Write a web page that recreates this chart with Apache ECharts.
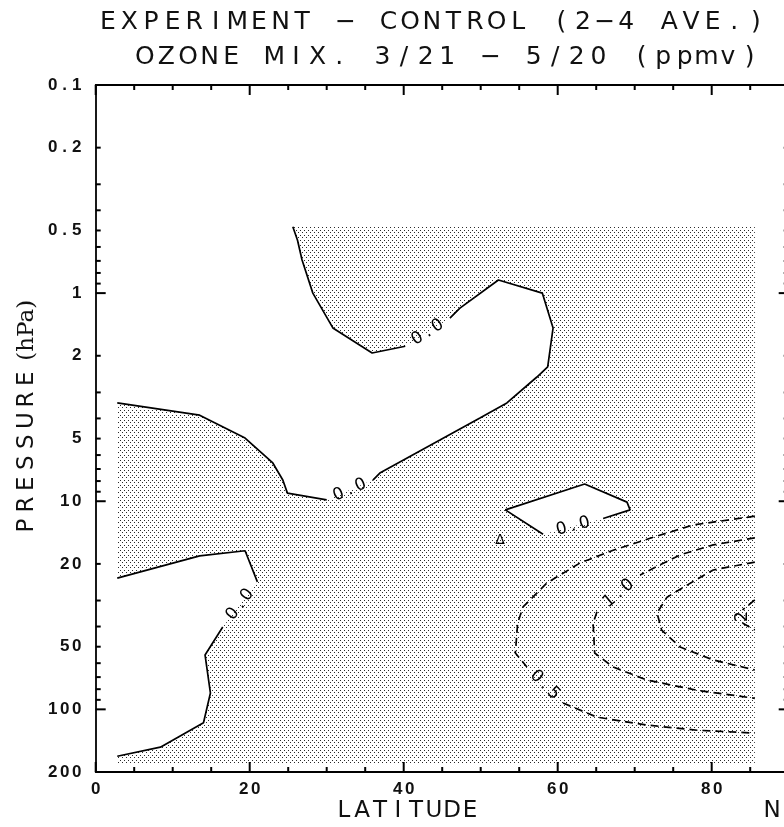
<!DOCTYPE html>
<html>
<head>
<meta charset="utf-8">
<title>Experiment - Control ozone mix</title>
<script src="https://cdn.jsdelivr.net/npm/echarts@6/dist/echarts.min.js"></script>
<style>
    html, body { margin: 0; padding: 0; background: #fff; }
    #main { width: 784px; height: 827px; }
</style>
</head>
<body>
<div id="main"></div>
<script>
// axis labels
var pressureTicks = [0.1, 0.2, 0.5, 1, 2, 5, 10, 20, 50, 100, 200];
var pressureLabels = ['0.1', '0.2', '0.5', '1', '2', '5', '10', '20', '50', '100', '200'];
var latTicks = [0, 20, 40, 60, 80];
var latLabels = ['0', '20', '40', '60', '80'];
var titleLines = ['EXPERIMENT \u2212 CONTROL (2\u22124 AVE.)', 'OZONE MIX. 3/21 \u2212 5/20 (ppmv)'];

// model domain, [lat, hPa] corners
var domain = [[2.8, 0.48], [85.6, 185]];

// contours, [lat, hPa]; each is split into segments where a label sits
var zeroUpper = [
    [[25.6, 0.48], [26.2, 0.556], [26.8, 0.693], [28.2, 1.0], [30.8, 1.47], [35.9, 1.94], [40.2, 1.80]],
    [[46.0, 1.32], [47.3, 1.18], [52.3, 0.865], [58.0, 1.0], [59.4, 1.47], [58.7, 2.26], [57.3, 2.53],
     [53.4, 3.37], [49.9, 3.98], [44.7, 5.08], [36.9, 7.32], [36.0, 7.91]],
    [[30.0, 9.86], [24.9, 9.14], [24.3, 7.91], [23.0, 6.55], [19.4, 4.97], [13.5, 3.86], [2.8, 3.37]]
];
var zeroLower = [
    [[2.8, 23.4], [13.5, 18.3], [19.4, 17.3], [21.0, 24.4]],
    [[16.5, 40.2], [14.2, 54.8], [14.9, 83.5], [14.0, 116], [8.4, 152], [2.8, 168]]
];
var zeroSmall = [
    [[58.1, 14.4], [53.2, 11.0], [63.5, 8.26], [69.0, 10.1], [69.4, 11.0], [65.9, 12.1]]
];
var minus05 = [
    [[85.6, 11.8], [77.6, 13.0], [72.4, 14.9], [67.2, 17.2], [62.9, 19.8], [58.6, 24.7], [55.5, 32.2],
     [54.8, 38.5], [54.5, 53.6], [56.0, 62.6]],
    [[60.7, 93.3], [65.1, 109], [71.6, 119], [78.1, 126], [85.6, 130]]
];
var minus10 = [
    [[85.6, 15.0], [80.2, 16.2], [75.9, 18.1], [70.7, 22.6]],
    [[65.1, 34.0], [64.6, 38.5], [64.8, 53.6], [67.2, 62.6], [71.6, 72.3], [78.1, 81.0], [85.6, 88.5]]
];
var minus15 = [
    [[85.6, 19.6], [80.2, 21.4], [76.8, 25.3], [74.2, 28.9], [72.9, 34.4], [73.5, 41.6], [75.9, 50.2],
     [80.2, 57.9], [85.6, 64.7]]
];
var minus20 = [
    [[85.6, 29.8], [84.0, 33.3]],
    [[84.0, 38.5], [85.6, 41.6]]
];

var contourLevels = [0, 0, 0, -0.5, -1.0, -1.5, -2.0];
var contourSegs = [zeroUpper, zeroLower, zeroSmall, minus05, minus10, minus15, minus20];
var contourLabels = ['0.0', '0.0', '0.0', '0.5', '1.0', '', '2'];
var closedGap = [false, false, true, false, false, false, false];

// small marker in the plot
var markers = [[52.5, 15.4, '\u0394']];

var LOG = Math.log10;
var SANS = '"DejaVu Sans"';

function spaced(str, key) {
    return str.split('').map(function (c) { return '{' + key + '|' + c + '}'; }).join('');
}
function flat(segs) {
    var out = [];
    segs.forEach(function (s) { out = out.concat(s); });
    return out;
}

// white (positive) regions built from the zero contours
var whiteRegions = [
    flat(zeroUpper).concat([[domain[0][0], domain[0][1]]]),
    flat(zeroLower),
    flat(zeroSmall)
];

// label gaps
var gaps = [];
contourSegs.forEach(function (segs, ci) {
    if (!contourLabels[ci]) return;
    for (var i = 0; i < segs.length - 1; i++) {
        gaps.push({ a: segs[i][segs[i].length - 1], b: segs[i + 1][0], text: contourLabels[ci] });
    }
    if (closedGap[ci]) {
        var last = segs[segs.length - 1];
        gaps.push({ a: last[last.length - 1], b: segs[0][0], text: contourLabels[ci] });
    }
});

// stipple pattern
var tile = document.createElement('canvas');
tile.width = 4; tile.height = 5;
var tc = tile.getContext('2d');
tc.fillStyle = '#2a2a2a';
tc.fillRect(0, 0, 1, 1);
tc.fillRect(2, 2, 1, 1);
var stipple = { image: tile, repeat: 'repeat' };

// tick positions (drawn inside the frame on all four sides)
var yMajor = [0.1, 1, 10, 100].map(LOG);
var yMinor = [];
[0.1, 1, 10].forEach(function (d) { for (var k = 2; k <= 9; k++) yMinor.push(LOG(k * d)); });
var xMajor = [0, 20, 40, 60, 80];
var xMinor = [5, 10, 15, 25, 30, 35, 45, 50, 55, 65, 70, 75, 85];
var frameTicks = [];
['bottom', 'top'].forEach(function (side) {
    xMajor.forEach(function (v) { frameTicks.push({ side: side, v: v, len: 10 }); });
    xMinor.forEach(function (v) { frameTicks.push({ side: side, v: v, len: 5 }); });
});
['left', 'right'].forEach(function (side) {
    yMajor.forEach(function (v) { frameTicks.push({ side: side, v: v, len: 10 }); });
    yMinor.forEach(function (v) { frameTicks.push({ side: side, v: v, len: 5 }); });
});

var lineColor = '#000';
var tickRich = { d: { width: 12, align: 'center', fontSize: 17, fontWeight: 'bold', fontFamily: 'Liberation Sans', color: '#111' } };

function xAx(pos, withLabels) {
    return {
        type: 'value', position: pos, min: 0, max: 90,
        axisLine: { show: true, onZero: false, lineStyle: { color: lineColor, width: 1.8 } },
        axisTick: { show: false },
        axisLabel: withLabels ? {
            show: true, margin: 9, customValues: latTicks,
            fontSize: 17, fontWeight: 'bold', fontFamily: 'Liberation Sans', color: '#111',
            formatter: function (v) {
                var i = latTicks.indexOf(v);
                return spaced(i >= 0 ? latLabels[i] : '', 'd');
            },
            rich: tickRich
        } : { show: false },
        splitLine: { show: false }
    };
}
function yAx(pos, withLabels) {
    return {
        type: 'value', position: pos, min: -1, max: LOG(200), inverse: true,
        axisLine: { show: true, onZero: false, lineStyle: { color: lineColor, width: 1.8 } },
        axisTick: { show: false },
        axisLabel: withLabels ? {
            show: true, margin: 13, customValues: pressureTicks.map(LOG),
            fontSize: 17, fontWeight: 'bold', fontFamily: 'Liberation Sans', color: '#111',
            formatter: function (v) {
                for (var i = 0; i < pressureTicks.length; i++) {
                    if (Math.abs(LOG(pressureTicks[i]) - v) < 1e-6) return spaced(pressureLabels[i], 'd');
                }
                return '';
            },
            rich: tickRich
        } : { show: false },
        splitLine: { show: false }
    };
}

var series = [];

// stippled model domain
series.push({
    type: 'custom', z: 1, clip: false,
    data: [[0, 0]],
    renderItem: function (params, api) {
        var a = api.coord([domain[0][0], LOG(domain[0][1])]);
        var b = api.coord([domain[1][0], LOG(domain[1][1])]);
        return { type: 'rect', shape: { x: a[0], y: a[1], width: b[0] - a[0], height: b[1] - a[1] },
            style: { fill: stipple } };
    }
});

// positive regions left white
series.push({
    type: 'custom', z: 2, clip: false,
    data: whiteRegions.map(function (r, i) { return [i, 0]; }),
    renderItem: function (params, api) {
        var pts = whiteRegions[params.dataIndex].map(function (p) { return api.coord([p[0], LOG(p[1])]); });
        return { type: 'polygon', shape: { points: pts }, style: { fill: '#fff' } };
    }
});

// contour lines
contourSegs.forEach(function (segs, ci) {
    segs.forEach(function (seg) {
        series.push({
            type: 'line', z: 3, symbol: 'none', animation: false,
            data: seg.map(function (p) { return [p[0], LOG(p[1])]; }),
            lineStyle: { color: lineColor, width: 1.7, type: contourLevels[ci] < 0 ? [8, 5] : 'solid' }
        });
    });
});

// contour labels
series.push({
    type: 'custom', z: 4, clip: false,
    data: gaps.map(function (g, i) { return [i, 0]; }),
    renderItem: function (params, api) {
        var g = gaps[params.dataIndex];
        var a = api.coord([g.a[0], LOG(g.a[1])]);
        var b = api.coord([g.b[0], LOG(g.b[1])]);
        var ang = Math.atan2(a[1] - b[1], b[0] - a[0]);
        if (ang > Math.PI / 2) ang -= Math.PI;
        else if (ang <= -Math.PI / 2) ang += Math.PI;
        return {
            type: 'text', x: (a[0] + b[0]) / 2, y: (a[1] + b[1]) / 2, rotation: ang,
            style: { text: spaced(g.text, 'c'), align: 'center', verticalAlign: 'middle',
                font: '17px ' + SANS, fill: '#000',
                rich: { c: { width: 12, align: 'center', font: '17px ' + SANS, fill: '#000' } } }
        };
    }
});

// markers
series.push({
    type: 'custom', z: 4, clip: false,
    data: markers.map(function (m) { return [m[0], LOG(m[1])]; }),
    renderItem: function (params, api) {
        var p = api.coord([api.value(0), api.value(1)]);
        return { type: 'text', x: p[0], y: p[1],
            style: { text: markers[params.dataIndex][2], align: 'center', verticalAlign: 'middle',
                font: '14px ' + SANS, fill: '#000' } };
    }
});

// frame ticks, placed through the axis scales
series.push({
    type: 'custom', z: 6, clip: false,
    data: frameTicks.map(function (t, i) { return [i, 0]; }),
    renderItem: function (params, api) {
        var t = frameTicks[params.dataIndex];
        var cs = params.coordSys;
        var st = { stroke: lineColor, lineWidth: 2 };
        var s;
        if (t.side === 'bottom' || t.side === 'top') {
            var px = api.coord([t.v, 0])[0];
            var y0 = t.side === 'bottom' ? cs.y + cs.height : cs.y;
            var y1 = t.side === 'bottom' ? y0 - t.len : y0 + t.len;
            s = { x1: px, y1: y0, x2: px, y2: y1 };
        } else {
            var py = api.coord([0, t.v])[1];
            var x0 = t.side === 'left' ? cs.x : cs.x + cs.width;
            var x1 = t.side === 'left' ? x0 + t.len : x0 - t.len;
            s = { x1: x0, y1: py, x2: x1, y2: py };
        }
        return { type: 'line', shape: s, style: st };
    }
});

var titleFont = '25px ' + SANS;
var chart = echarts.init(document.getElementById('main'), null, { renderer: 'canvas' });
chart.setOption({
    animation: false,
    grid: { left: 95.7, top: 85, width: 693, height: 687, containLabel: false, outerBoundsMode: 'none' },
    xAxis: [xAx('bottom', true), xAx('top', false)],
    yAxis: [yAx('left', true), yAx('right', false)],
    graphic: [
        { type: 'text', x: 97, y: 22, style: { text: spaced(titleLines[0], 't'), align: 'left', verticalAlign: 'middle',
            font: titleFont, fill: '#111',
            rich: { t: { width: 21.6, align: 'center', font: titleFont, fill: '#111' } } } },
        { type: 'text', x: 134, y: 57, style: { text: spaced(titleLines[1], 't'), align: 'left', verticalAlign: 'middle',
            font: titleFont, fill: '#111',
            rich: { t: { width: 21.6, align: 'center', font: titleFont, fill: '#111' } } } },
        { type: 'text', x: 27, y: 418, rotation: Math.PI / 2,
            style: { text: spaced('PRESSURE', 't') + '{s| (hPa)}', align: 'center', verticalAlign: 'middle',
                font: '24px ' + SANS, fill: '#111',
                rich: { t: { width: 21, align: 'center', font: '23px ' + SANS, fill: '#111' },
                        s: { font: '23px "DejaVu Serif"', fill: '#111' } } } },
        { type: 'text', x: 407, y: 811, style: { text: spaced('LATITUDE', 't'), align: 'center', verticalAlign: 'middle',
            font: '23px ' + SANS, fill: '#111',
            rich: { t: { width: 18, align: 'center', font: '23px ' + SANS, fill: '#111' } } } },
        { type: 'text', x: 772, y: 811, style: { text: 'N', align: 'center', verticalAlign: 'middle',
            font: '23px ' + SANS, fill: '#111' } }
    ],
    series: series
});
</script>
</body>
</html>
